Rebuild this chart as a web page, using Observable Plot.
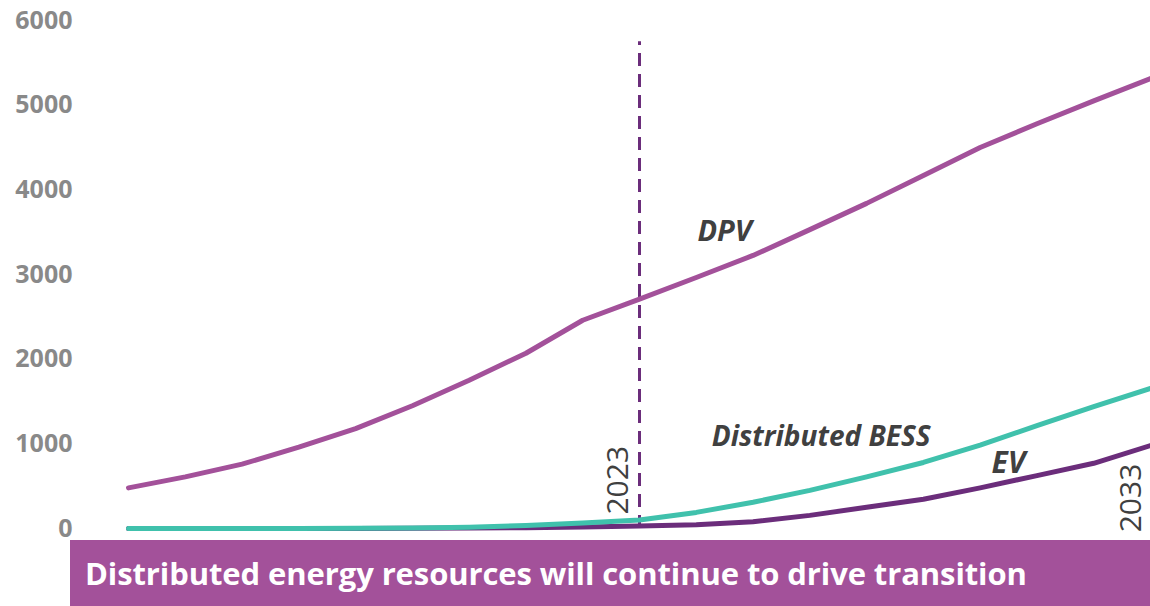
<!DOCTYPE html>
<html><head><meta charset="utf-8">
<script src="https://cdn.jsdelivr.net/npm/d3@7"></script>
<script src="https://cdn.jsdelivr.net/npm/@observablehq/plot@0.6"></script>
<style>
body{margin:0;background:#fff;font-family:"Open Sans",sans-serif;}
#chart svg{display:block;}
#banner{margin-left:70px;width:1080px;height:66px;background:#A3519A;color:#fff;font-weight:700;font-size:31px;line-height:66px;padding-left:15px;box-sizing:border-box;white-space:nowrap;overflow:hidden;letter-spacing:-0.1px;}
</style></head><body>
<div id="chart"></div>
<div id="banner">Distributed energy resources will continue to drive transition</div>
<script>
const years = [2014,2015,2016,2017,2018,2019,2020,2021,2022,2023,2024,2025,2026,2027,2028,2029,2030,2031,2032];
const dpv  = [480,610,760,960,1180,1450,1750,2070,2460,2710,2965,3225,3530,3840,4170,4500,4780,5050,5315];
const bess = [0,0,0,0,2,5,15,35,65,100,190,310,450,610,780,985,1215,1440,1655];
const ev   = [0,0,0,0,0,2,5,10,18,30,45,80,155,250,345,480,625,770,980];
const yTicks = [0,1000,2000,3000,4000,5000,6000];
const markerYear = 2023;

const mk = arr => years.map((y,i)=>({year:y, value:arr[i]}));

const chart = Plot.plot({
  width:1150, height:540,
  marginLeft:128, marginRight:0, marginTop:20, marginBottom:12,
  style:{fontFamily:"'Open Sans', sans-serif", background:"#fff", overflow:"visible"},
  x:{domain:[years[0], years[years.length-1]], axis:null},
  y:{domain:[0,6000], axis:null},
  marks:[
    Plot.axisY({ticks:yTicks, tickSize:0, tickPadding:56, tickFormat:"d", label:null, fontSize:25, fontWeight:"bold", fill:"#898989"}),
    Plot.ruleX([markerYear], {y1:0, y2:5750, stroke:"#6B2D7B", strokeWidth:3, strokeDasharray:"13,8"}),
    Plot.line(mk(dpv), {x:"year", y:"value", stroke:"#A3519A", strokeWidth:5}),
    Plot.line(mk(ev), {x:"year", y:"value", stroke:"#6B2D7B", strokeWidth:5}),
    Plot.line(mk(bess), {x:"year", y:"value", stroke:"#40C1AC", strokeWidth:5}),
    Plot.text(["DPV"], {x:2024.5, y:3500, text:d=>d, fontSize:29, fontWeight:"bold", fontStyle:"italic", fill:"#404040"}),
    Plot.text(["Distributed BESS"], {x:2026.2, y:1075, text:d=>d, fontSize:28, fontWeight:"bold", fontStyle:"italic", fill:"#404040"}),
    Plot.text(["EV"], {x:2029.5, y:770, text:d=>d, fontSize:30, fontWeight:"bold", fontStyle:"italic", fill:"#404040"}),
    Plot.text(["2023"], {x:markerYear, y:570, dx:-21, text:d=>d, rotate:-90, fontSize:30, fill:"#404040"}),
    Plot.text(["2033"], {x:years[years.length-1], y:360, dx:-19, text:d=>d, rotate:-90, fontSize:30, fill:"#404040"})
  ]
});
document.getElementById("chart").appendChild(chart);
</script>
</body></html>
